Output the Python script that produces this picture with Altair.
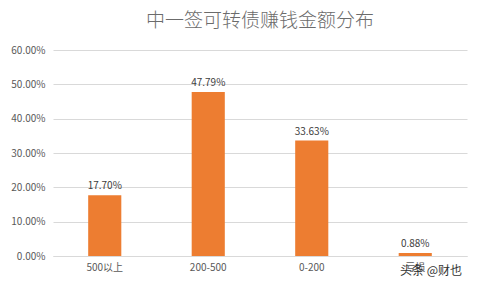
import altair as alt
import pandas as pd

categories = ["500以上", "200-500", "0-200", "亏损"]
values = [0.1770, 0.4779, 0.3363, 0.0088]
labels = ["17.70%", "47.79%", "33.63%", "0.88%"]
y_ticks = [0, 0.1, 0.2, 0.3, 0.4, 0.5, 0.6]

df = pd.DataFrame({"cat": categories, "val": values, "lab": labels})

FONT = "Noto Sans CJK SC"
GRAY = "#595959"

base = alt.Chart(df).encode(
    x=alt.X("cat:N", sort=categories, title=None,
            scale=alt.Scale(paddingInner=0.68, paddingOuter=0.34),
            axis=alt.Axis(labelAngle=0, labelFontSize=10, labelColor=GRAY, labelFont=FONT,
                          domain=True, domainColor="#D9D9D9", ticks=False, grid=False,
                          labelPadding=6)),
    y=alt.Y("val:Q", title=None,
            scale=alt.Scale(domain=[0, 0.6], nice=False),
            axis=alt.Axis(format=".2%", values=y_ticks, tickCount=7,
                          labelOverlap=False, labelFontSize=10, labelColor=GRAY, labelFont=FONT,
                          domain=False, ticks=False, gridColor="#D9D9D9", labelPadding=8)),
)

bars = base.mark_bar(color="#ED7D31")
text = base.mark_text(dy=-9, fontSize=10, color="#404040", font=FONT).encode(text="lab:N")

wm = alt.Chart(pd.DataFrame({"t": ["头条 @财也"]})).mark_text(
    fontSize=12, color="#333333", font=FONT, align="left").encode(
    x=alt.value(347), y=alt.value(221), text="t:N")

chart = alt.layer(bars, text, wm).properties(
    width=414, height=206,
    background="white",
    title=alt.TitleParams("中一签可转债赚钱金额分布", fontSize=19, font=FONT,
                          color="#6b6b6b", fontWeight=300, offset=14),
    autosize=alt.AutoSizeParams(type="none"),
    padding={"left": 53, "top": 50, "right": 13, "bottom": 32},
).configure_view(strokeWidth=0)

chart.save("out.html", embed_options={"renderer": "svg", "actions": False})
